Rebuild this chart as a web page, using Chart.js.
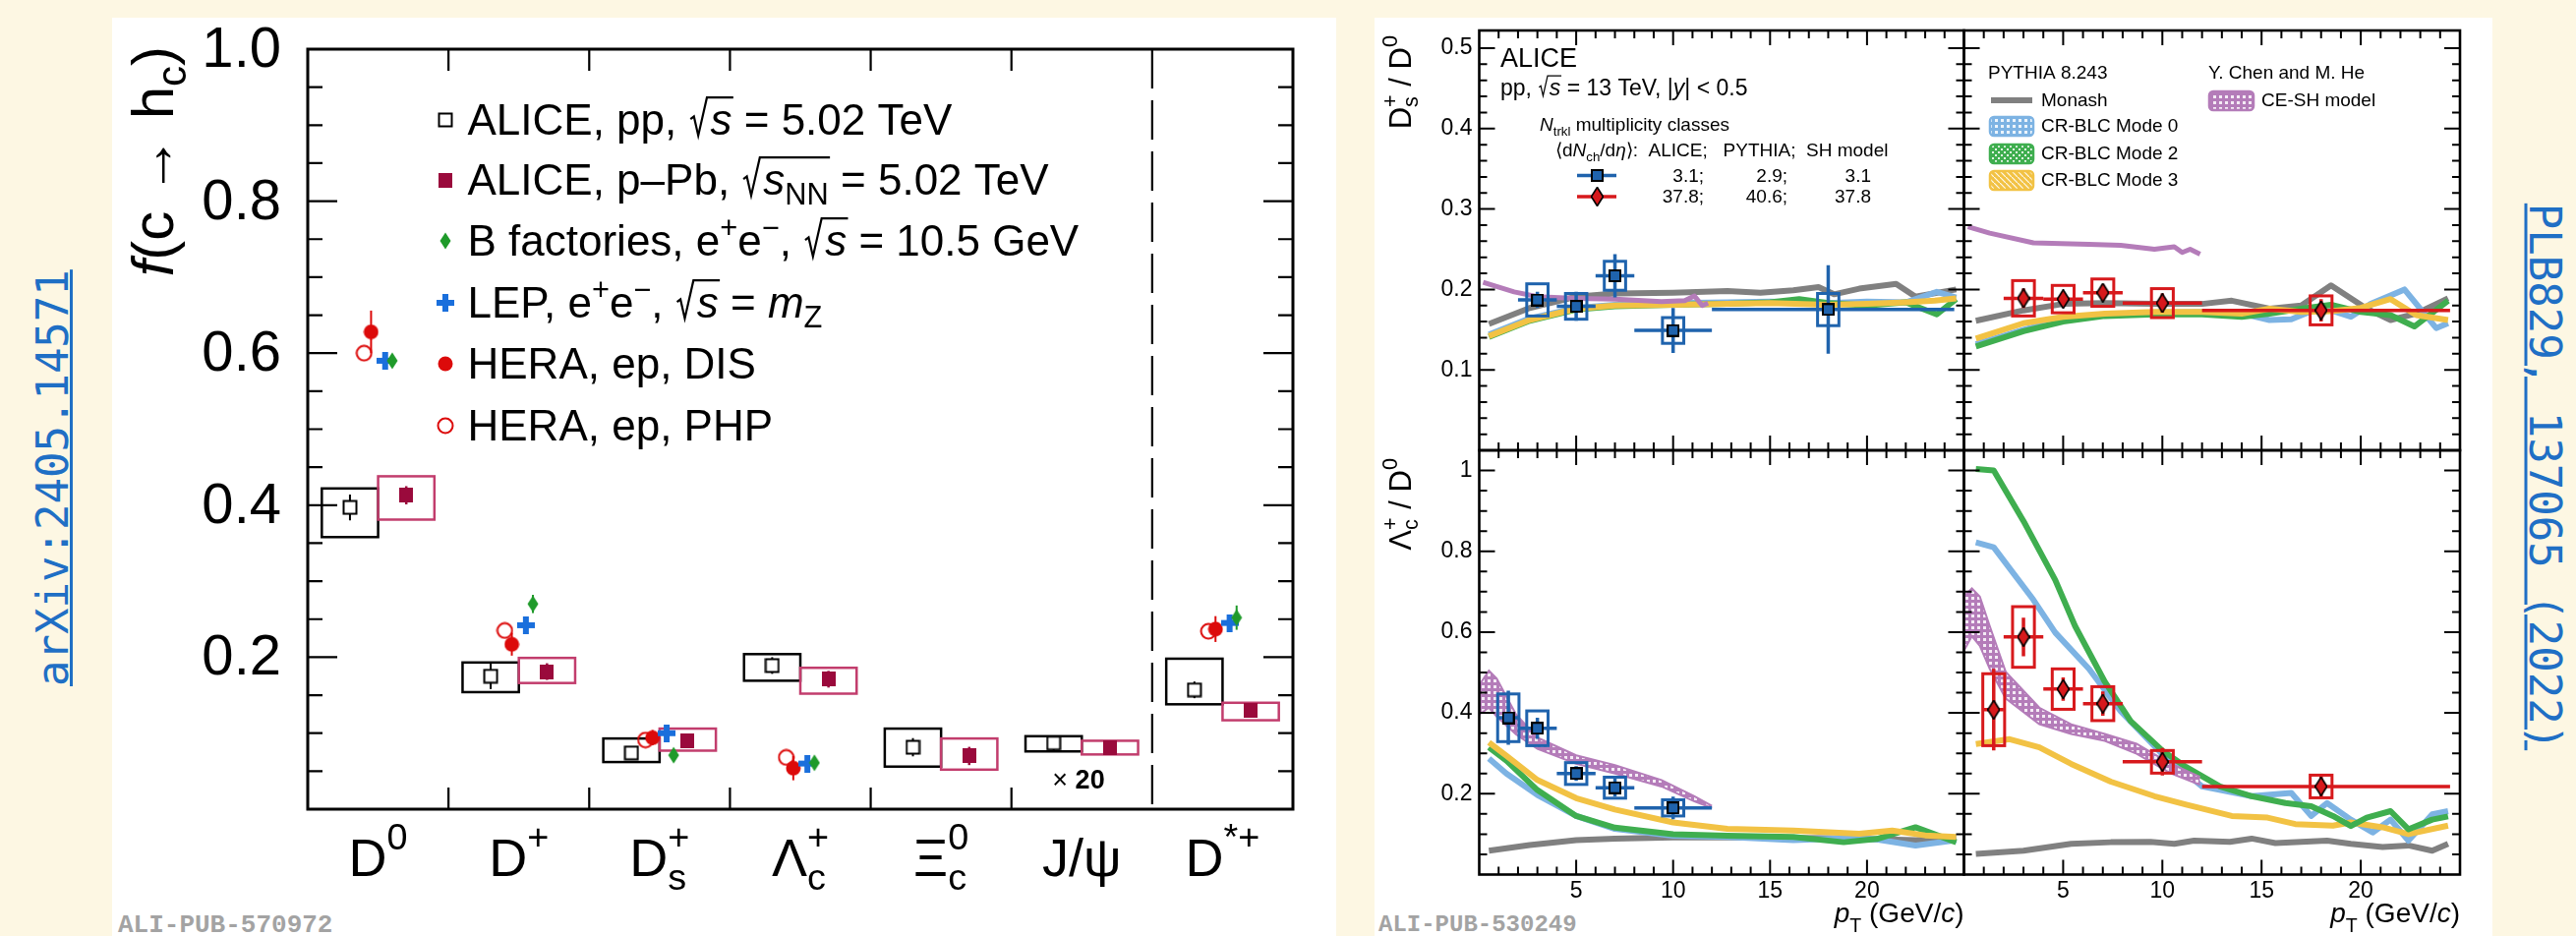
<!DOCTYPE html>
<html>
<head>
<meta charset="utf-8">
<title>Charm fragmentation fractions and baryon/meson ratios</title>
<script src="https://cdn.jsdelivr.net/npm/chart.js@4.4.1/dist/chart.umd.min.js"></script>
<style>
  html, body { margin: 0; padding: 0; }
  body { width: 2620px; height: 952px; background: #fdf7e3; position: relative; overflow: hidden; }
  .panel { position: absolute; background: #fff; }
  canvas { position: absolute; left: 0; top: 0; }
  .ref { position: absolute; color: #1f6fc5; font: 44px "DejaVu Sans Mono", monospace; text-decoration: underline;
         text-decoration-thickness: 3px; white-space: nowrap; text-align: center; height: 52px; line-height: 52px; }
  .pub { position: absolute; color: #a3a3a3; font: bold 26px "Liberation Mono", monospace; line-height: 26px; white-space: nowrap; }
</style>
</head>
<body>
<div class="panel" style="left:114px;top:18px;width:1245px;height:934px"></div>
<div class="panel" style="left:1398px;top:18px;width:1137px;height:934px"></div>
<div class="ref" style="left:-157px;top:461px;width:422px;transform:rotate(-90deg)">arXiv:2405.14571</div>
<div class="ref" style="left:2308px;top:459px;width:559px;transform:rotate(90deg)">PLB829, 137065 (2022)</div>
<div class="pub" style="left:120px;top:928px">ALI-PUB-570972</div>
<div class="pub" style="left:1402px;top:928px;font-size:24px">ALI-PUB-530249</div>

<canvas id="fragChart" width="2620" height="952"></canvas>
<canvas id="dsLowChart" width="2620" height="952"></canvas>
<canvas id="dsHighChart" width="2620" height="952"></canvas>
<canvas id="lcLowChart" width="2620" height="952"></canvas>
<canvas id="lcHighChart" width="2620" height="952"></canvas>

<script>
// ---------------- left figure: f(c -> hc) ----------------
const hadrons = ['D^{0}', 'D^{+}', 'D_{s}^{+}', 'Λ_{c}^{+}', 'Ξ_{c}^{0}', 'J/ψ', 'D^{*+}'];
const fracTicks = [0.2, 0.4, 0.6, 0.8, 1.0];

const ppFrac    = [0.397, 0.175, 0.074, 0.189, 0.0815, 0.087, 0.157];
const ppStat    = [0.017, 0.017, 0.008, 0.011, 0.012, 0.010, 0.011];
const ppSystLo  = [0.358, 0.154, 0.062, 0.169, 0.056, 0.076, 0.138];
const ppSystHi  = [0.422, 0.193, 0.093, 0.204, 0.106, 0.096, 0.198];

const pPbFrac   = [0.413, 0.181, 0.090, 0.171, 0.070, 0.081, 0.130];
const pPbStat   = [0.012, 0.011, 0.009, 0.011, 0.012, 0.008, 0.008];
const pPbSystLo = [0.381, 0.166, 0.077, 0.152, 0.052, 0.072, 0.117];
const pPbSystHi = [0.438, 0.199, 0.106, 0.186, 0.093, 0.090, 0.140];

const heraDis    = [0.628, 0.217, 0.094, 0.054, null, null, 0.237];
const heraDisErr = [0.028, 0.015, 0.010, 0.016, null, null, 0.017];
const heraPhp    = [0.600, 0.235, 0.091, 0.068, null, null, 0.234];
const lepFrac    = [0.590, 0.242, 0.100, 0.060, null, null, 0.245];
const bFactFrac  = [0.590, 0.270, 0.071, 0.061, null, null, 0.252];
const bFactErr   = [0.008, 0.012, 0.008, 0.006, null, null, 0.016];

const fracLegend = [
  'ALICE, pp, #sqrt{#it{s}} = 5.02 TeV',
  'ALICE, p–Pb, #sqrt{#it{s}_{NN}} = 5.02 TeV',
  'B factories, e^{+}e^{−}, #sqrt{#it{s}} = 10.5 GeV',
  'LEP, e^{+}e^{−}, #sqrt{#it{s}} = #it{m}_{Z}',
  'HERA, ep, DIS',
  'HERA, ep, PHP'
];

// ---------------- right figure: ratios vs pT ----------------
const ptTicks = [5, 10, 15, 20];
const dsTicks = [0.1, 0.2, 0.3, 0.4, 0.5];
const lcTicks = [0.2, 0.4, 0.6, 0.8, 1];

const dsPt   = [3, 5, 7, 10, 18];
const dsPtLo = [2, 4, 6, 8, 12];
const dsPtHi = [4, 6, 8, 12, 24.5];
const dsLowVal   = [0.187, 0.179, 0.217, 0.149, 0.175];
const dsLowStat  = [0.010, 0.018, 0.027, 0.028, 0.055];
const dsLowSyst  = [0.020, 0.016, 0.018, 0.016, 0.020];
const dsHighVal  = [0.189, 0.188, 0.196, 0.183, 0.174];
const dsHighStat = [0.012, 0.009, 0.010, 0.012, 0.014];
const dsHighSyst = [0.022, 0.017, 0.017, 0.018, 0.018];

const lcPt   = [1.5, 3, 5, 7, 10, 18];
const lcPtLo = [1, 2, 4, 6, 8, 12];
const lcPtHi = [2, 4, 6, 8, 12, 24.5];
const lcLowVal   = [0.388, 0.362, 0.250, 0.215, 0.165];
const lcLowStat  = [0.067, 0.026, 0.018, 0.022, 0.028];
const lcLowSyst  = [0.059, 0.043, 0.027, 0.026, 0.020];
const lcHighVal  = [0.408, 0.588, 0.459, 0.423, 0.279, 0.218];
const lcHighStat = [0.101, 0.048, 0.029, 0.030, 0.034, 0.026];
const lcHighSyst = [0.089, 0.075, 0.050, 0.042, 0.028, 0.028];

// models, Ds/D0 low multiplicity
const monashDsLowPt = [0.5, 2.6, 5, 7, 10, 12.8, 14.5, 16.2, 17.5, 18.3, 19.6, 21.5, 22.5, 24.6];
const monashDsLow   = [0.157, 0.177, 0.191, 0.195, 0.196, 0.198, 0.196, 0.199, 0.203, 0.194, 0.201, 0.207, 0.191, 0.200];
const mode0DsLowPt  = [0.5, 2.6, 5, 7, 10, 12.8, 15, 18, 20, 22, 23.6, 24.6];
const mode0DsLow    = [0.144, 0.164, 0.177, 0.181, 0.183, 0.184, 0.185, 0.183, 0.185, 0.184, 0.197, 0.190];
const mode2DsLowPt  = [0.5, 2.6, 5, 7, 10, 12.8, 15, 16.5, 18, 20, 22, 23.6, 24.6];
const mode2DsLow    = [0.141, 0.161, 0.175, 0.179, 0.181, 0.182, 0.184, 0.188, 0.183, 0.180, 0.184, 0.169, 0.188];
const mode3DsLowPt  = [0.5, 2.6, 5, 7, 10, 12.8, 15, 18, 20, 22, 23.5, 24.6];
const mode3DsLow    = [0.142, 0.162, 0.176, 0.180, 0.181, 0.182, 0.183, 0.181, 0.182, 0.184, 0.186, 0.189];
const ceshDsLowPt   = [0.2, 1.8, 3, 5, 7, 9.4, 10.6, 11.1, 11.5, 11.8];
const ceshDsLow     = [0.209, 0.197, 0.191, 0.189, 0.188, 0.185, 0.186, 0.192, 0.180, 0.183];

// models, Ds/D0 high multiplicity
const monashDsHighPt = [0.6, 3, 5, 7.1, 9.6, 12, 13.5, 15.4, 17, 18.5, 20.3, 21.5, 22.8, 24.4];
const monashDsHigh   = [0.161, 0.174, 0.182, 0.183, 0.182, 0.182, 0.186, 0.176, 0.180, 0.205, 0.176, 0.162, 0.170, 0.189];
const mode0DsHighPt  = [0.6, 3, 5, 7.1, 9.6, 12, 14, 15.4, 16.5, 18, 19.5, 20.5, 22.2, 23.8, 24.4];
const mode0DsHigh    = [0.132, 0.150, 0.163, 0.169, 0.171, 0.172, 0.170, 0.162, 0.163, 0.178, 0.166, 0.182, 0.200, 0.152, 0.158];
const mode2DsHighPt  = [0.6, 3, 5, 7.1, 9.6, 12, 14, 15.4, 17, 18.5, 20, 21.5, 22.7, 24.4];
const mode2DsHigh    = [0.129, 0.148, 0.160, 0.167, 0.169, 0.169, 0.166, 0.170, 0.176, 0.181, 0.172, 0.168, 0.154, 0.186];
const mode3DsHighPt  = [0.6, 3, 5, 7.1, 9.6, 12, 14, 15.4, 17, 18.5, 20, 21.5, 22.8, 24.4];
const mode3DsHigh    = [0.139, 0.158, 0.166, 0.170, 0.172, 0.172, 0.170, 0.176, 0.172, 0.173, 0.177, 0.188, 0.168, 0.162];
const ceshDsHighPt   = [0.2, 1.3, 3.5, 6.3, 7.9, 9.6, 10.6, 11.0, 11.4, 11.9];
const ceshDsHigh     = [0.278, 0.270, 0.258, 0.256, 0.255, 0.250, 0.253, 0.246, 0.250, 0.244];

// models, Lc/D0 low multiplicity
const monashLcLowPt = [0.5, 2.6, 5, 7, 10, 12.8, 15, 18, 20, 22.5, 24.6];
const monashLcLow   = [0.059, 0.073, 0.085, 0.089, 0.092, 0.092, 0.091, 0.090, 0.088, 0.085, 0.090];
const mode0LcLowPt  = [0.5, 1.4, 3, 5, 7, 10, 12.8, 16.2, 19, 20.5, 22.5, 24.6];
const mode0LcLow    = [0.287, 0.250, 0.197, 0.145, 0.113, 0.096, 0.093, 0.085, 0.090, 0.087, 0.072, 0.085];
const mode2LcLowPt  = [0.5, 1.4, 3, 5, 7, 10, 12.8, 16.2, 18.8, 20.5, 22.5, 24.6];
const mode2LcLow    = [0.315, 0.282, 0.209, 0.145, 0.116, 0.100, 0.096, 0.093, 0.080, 0.088, 0.117, 0.080];
const mode3LcLowPt  = [0.5, 1.4, 3, 5, 7, 10, 12.8, 16.2, 19.6, 21.3, 23, 24.6];
const mode3LcLow    = [0.327, 0.294, 0.234, 0.189, 0.161, 0.129, 0.113, 0.109, 0.101, 0.109, 0.097, 0.093];
const ceshLcLowPt   = [0, 0.5, 0.9, 1.9, 3, 5, 7, 9.4, 11.1, 12];
const ceshLcLowUp   = [0.469, 0.505, 0.485, 0.396, 0.339, 0.295, 0.271, 0.234, 0.194, 0.170];
const ceshLcLowDn   = [0.396, 0.413, 0.391, 0.347, 0.311, 0.274, 0.250, 0.218, 0.181, 0.165];

// models, Lc/D0 high multiplicity
const monashLcHighPt = [0.6, 3, 5.4, 7.4, 9.4, 10.6, 11.6, 13.4, 14.5, 15.7, 18.3, 19.5, 21.1, 22.4, 23.6, 24.4];
const monashLcHigh   = [0.051, 0.059, 0.076, 0.080, 0.081, 0.076, 0.084, 0.081, 0.089, 0.078, 0.084, 0.076, 0.068, 0.072, 0.059, 0.076];
const mode0LcHighPt  = [0.6, 1.5, 3.5, 4.6, 6.3, 7.9, 10, 12, 14.5, 16.5, 17.5, 18.3, 19.5, 20.6, 21.5, 22.4, 23.6, 24.4];
const mode0LcHigh    = [0.822, 0.810, 0.680, 0.599, 0.509, 0.404, 0.298, 0.218, 0.194, 0.202, 0.145, 0.177, 0.136, 0.104, 0.136, 0.084, 0.149, 0.157];
const mode2LcHighPt  = [0.6, 1.5, 3, 4.6, 5.6, 7.1, 8.4, 10, 11.2, 12.9, 14.5, 16.2, 17.5, 18.6, 19.5, 20.3, 21.5, 22.4, 23.6, 24.4];
const mode2LcHigh    = [1.004, 1.0, 0.875, 0.729, 0.615, 0.477, 0.380, 0.307, 0.266, 0.218, 0.194, 0.177, 0.169, 0.145, 0.120, 0.141, 0.157, 0.112, 0.136, 0.144];
const mode3LcHighPt  = [0.6, 2.3, 3.8, 5.4, 7.4, 9.6, 11.2, 13.5, 15.3, 16.7, 18.6, 19.5, 21.1, 22.4, 24.4];
const mode3LcHigh    = [0.323, 0.335, 0.315, 0.274, 0.230, 0.194, 0.173, 0.145, 0.141, 0.125, 0.121, 0.129, 0.117, 0.100, 0.121];
const ceshLcHighPt   = [0, 0.4, 0.8, 1.3, 2.1, 3.8, 5.4, 7.1, 8.7, 10.4, 11.9];
const ceshLcHighUp   = [0.688, 0.708, 0.688, 0.615, 0.502, 0.413, 0.372, 0.348, 0.324, 0.275, 0.242];
const ceshLcHighDn   = [0.554, 0.590, 0.566, 0.509, 0.436, 0.372, 0.348, 0.331, 0.299, 0.251, 0.222];

const C_GRAY = '#808080', C_MODE0 = '#7db3e3', C_MODE2 = '#3fae4f', C_MODE3 = '#f2c244', C_CESH = '#b47cb9';
const C_BLUE = '#1f63ad', C_RED = '#d7191c';

// ---------------- text helpers (ROOT-like #it, _{}, ^{}, #sqrt) ----------------
const SANS = '"Liberation Sans", Arial, sans-serif';
function fontStr(size, it) {
  return (it && it.i ? 'italic ' : '') + (it && it.b ? 'bold ' : '') + size + 'px ' + SANS;
}
function setFlag(items, f) {
  items.forEach(it => {
    if (it.t !== undefined) it[f] = true;
    if (it.sup) setFlag(it.sup, f);
    if (it.sub) setFlag(it.sub, f);
    if (it.sqrt) setFlag(it.sqrt, f);
  });
}
function parseTex(s) {
  const out = [];
  let i = 0, buf = '';
  const flush = () => { if (buf) { out.push({ t: buf }); buf = ''; } };
  const group = () => {
    let depth = 0;
    const start = i + 1;
    for (; i < s.length; i++) {
      if (s[i] === '{') depth++;
      else if (s[i] === '}' && --depth === 0) break;
    }
    const g = s.slice(start, i);
    i++;
    return g;
  };
  while (i < s.length) {
    const c = s[i];
    if (c === '^' || c === '_') {
      flush(); i++;
      const key = c === '^' ? 'sup' : 'sub';
      const g = parseTex(group());
      const last = out[out.length - 1];
      if (last && last.script && !last[key]) last[key] = g;
      else out.push({ script: true, [key]: g });
    } else if (s.startsWith('#sqrt', i)) {
      flush(); i += 5;
      out.push({ sqrt: parseTex(group()) });
    } else if (s.startsWith('#it', i) || s.startsWith('#bf', i)) {
      flush();
      const flag = s[i + 1] === 'i' ? 'i' : 'b';
      i += 3;
      const inner = parseTex(group());
      setFlag(inner, flag);
      out.push(...inner);
    } else {
      buf += c; i++;
    }
  }
  flush();
  return out;
}
function texWidth(ctx, items, fs, o) {
  let w = 0;
  for (const it of items) {
    if (it.script) {
      const ss = fs * o.scale;
      w += Math.max(it.sup ? texWidth(ctx, it.sup, ss, o) : 0, it.sub ? texWidth(ctx, it.sub, ss, o) : 0);
    } else if (it.sqrt) {
      w += fs * 0.5 + texWidth(ctx, it.sqrt, fs, o);
    } else {
      ctx.font = fontStr(fs, it);
      w += ctx.measureText(it.t).width;
    }
  }
  return w;
}
function texRun(ctx, items, x, y, fs, o) {
  ctx.textAlign = 'left';
  ctx.textBaseline = 'alphabetic';
  for (const it of items) {
    if (it.script) {
      const ss = fs * o.scale;
      let end = x;
      if (it.sup) end = Math.max(end, texRun(ctx, it.sup, x, y - fs * o.sup, ss, o));
      if (it.sub) end = Math.max(end, texRun(ctx, it.sub, x, y + fs * o.sub, ss, o));
      x = end;
    } else if (it.sqrt) {
      const end = texRun(ctx, it.sqrt, x + fs * 0.5, y, fs, o);
      ctx.save();
      ctx.strokeStyle = ctx.fillStyle;
      ctx.lineWidth = Math.max(1.2, fs * 0.05);
      ctx.beginPath();
      ctx.moveTo(x + fs * 0.04, y - fs * 0.36);
      ctx.lineTo(x + fs * 0.12, y - fs * 0.42);
      ctx.lineTo(x + fs * 0.22, y + fs * 0.02);
      ctx.lineTo(x + fs * 0.42, y - fs * 0.86);
      ctx.lineTo(end + fs * 0.03, y - fs * 0.86);
      ctx.stroke();
      ctx.restore();
      x = end;
    } else {
      ctx.font = fontStr(fs, it);
      ctx.fillText(it.t, x, y);
      x += ctx.measureText(it.t).width;
    }
  }
  return x;
}
function drawTex(ctx, str, x, y, fs, align, opt) {
  const o = Object.assign({ scale: 0.7, sup: 0.45, sub: 0.22 }, opt || {});
  const items = parseTex(str);
  const w = texWidth(ctx, items, fs, o);
  if (align === 'center') x -= w / 2;
  else if (align === 'right') x -= w;
  texRun(ctx, items, x, y, fs, o);
  return w;
}
function vTitle(ctx, str, baseX, topY, fs) {
  ctx.save();
  ctx.translate(baseX, topY);
  ctx.rotate(-Math.PI / 2);
  drawTex(ctx, str, 0, 0, fs, 'right');
  ctx.restore();
}

// ---------------- markers & patterns ----------------
function markerCanvas(w, h, paint) {
  const c = document.createElement('canvas');
  c.width = w; c.height = h;
  paint(c.getContext('2d'), w, h);
  return c;
}
function diamond(g, w, h) {
  g.beginPath(); g.moveTo(w / 2, 0.5); g.lineTo(w - 0.5, h / 2); g.lineTo(w / 2, h - 0.5); g.lineTo(0.5, h / 2); g.closePath();
}
const mkOpenSq = markerCanvas(16, 16, g => { g.fillStyle = '#fff'; g.fillRect(1.5, 1.5, 13, 13); g.strokeStyle = '#000'; g.lineWidth = 2; g.strokeRect(1.5, 1.5, 13, 13); });
const mkFullSq = markerCanvas(14, 15, g => { g.fillStyle = '#9a0a3c'; g.fillRect(0, 0, 14, 15); });
const mkGreenDia = markerCanvas(12, 18, (g, w, h) => { g.fillStyle = '#1f9a2a'; diamond(g, w, h); g.fill(); });
const mkBlueCross = markerCanvas(18, 18, g => { g.fillStyle = '#1a6fdc'; g.fillRect(0, 6, 18, 6); g.fillRect(6, 0, 6, 18); });
const mkRedDot = markerCanvas(16, 16, g => { g.fillStyle = '#dc0a0a'; g.beginPath(); g.arc(8, 8, 7.5, 0, 2 * Math.PI); g.fill(); });
const mkRedRing = markerCanvas(18, 18, g => { g.strokeStyle = '#dc0a0a'; g.lineWidth = 2; g.beginPath(); g.arc(9, 9, 7.5, 0, 2 * Math.PI); g.stroke(); });
const mkBlueSq = markerCanvas(13, 13, g => { g.fillStyle = C_BLUE; g.fillRect(0, 0, 13, 13); g.strokeStyle = '#000'; g.lineWidth = 2; g.strokeRect(1, 1, 11, 11); });
const mkRedDia = markerCanvas(13, 20, (g, w, h) => { diamond(g, w, h); g.fillStyle = C_RED; g.fill(); g.strokeStyle = '#000'; g.lineWidth = 1.6; g.stroke(); });

function hatch(base, kind) {
  const c = document.createElement('canvas');
  c.width = 6; c.height = 6;
  const g = c.getContext('2d');
  g.fillStyle = base; g.fillRect(0, 0, 6, 6);
  g.fillStyle = 'rgba(255,255,255,0.85)';
  g.strokeStyle = 'rgba(255,255,255,0.9)';
  if (kind === 'grid') g.fillRect(1, 1, 3, 3);
  else if (kind === 'dots') { g.fillRect(1, 1, 2, 2); g.fillRect(4, 4, 2, 2); }
  else { g.lineWidth = 1.2; g.beginPath(); g.moveTo(-1, -1); g.lineTo(7, 7); g.stroke(); }
  return document.createElement('canvas').getContext('2d').createPattern(c, 'repeat');
}
const patCesh = hatch(C_CESH, 'grid');
const patMode0 = hatch(C_MODE0, 'grid');
const patMode2 = hatch(C_MODE2, 'dots');
const patMode3 = hatch(C_MODE3, 'diag');

// ---------------- left chart ----------------
function catPoints(vals, offset) {
  return vals.map((v, i) => (v == null ? null : { x: i + offset, y: v })).filter(Boolean);
}
function box(ctx, x, y, x0, x1, lo, hi, color, lw) {
  const px0 = x.getPixelForValue(x0), px1 = x.getPixelForValue(x1);
  const py0 = y.getPixelForValue(hi), py1 = y.getPixelForValue(lo);
  ctx.strokeStyle = color; ctx.lineWidth = lw;
  ctx.strokeRect(px0, py0, px1 - px0, py1 - py0);
}
function vbar(ctx, x, y, xv, v, e, color, lw) {
  const px = x.getPixelForValue(xv);
  ctx.strokeStyle = color; ctx.lineWidth = lw;
  ctx.beginPath();
  ctx.moveTo(px, y.getPixelForValue(v - e)); ctx.lineTo(px, y.getPixelForValue(v + e));
  ctx.stroke();
}

const fracDeco = {
  id: 'fracDeco',
  beforeDatasetsDraw(chart) {
    const { ctx, scales: { x, y } } = chart;
    ctx.save();
    hadrons.forEach((h, i) => {
      box(ctx, x, y, i + 0.1, i + 0.5, ppSystLo[i], ppSystHi[i], '#000', 2.5);
      box(ctx, x, y, i + 0.5, i + 0.9, pPbSystLo[i], pPbSystHi[i], '#c23d6d', 2.5);
      vbar(ctx, x, y, i + 0.3, ppFrac[i], ppStat[i], '#000', 2);
      vbar(ctx, x, y, i + 0.7, pPbFrac[i], pPbStat[i], '#9a0a3c', 2.5);
      if (heraDis[i] != null) vbar(ctx, x, y, i + 0.45, heraDis[i], heraDisErr[i], '#dc0a0a', 2);
      if (bFactFrac[i] != null) vbar(ctx, x, y, i + 0.6, bFactFrac[i], bFactErr[i], '#1f9a2a', 2);
    });
    ctx.restore();
  },
  afterDraw(chart) {
    const { ctx, chartArea: a, scales: { x, y } } = chart;
    ctx.save();
    ctx.strokeStyle = '#000'; ctx.fillStyle = '#000';
    ctx.lineWidth = 2.2;
    ctx.beginPath();
    for (let k = 1; k < 20; k++) {
      const py = y.getPixelForValue(k * 0.05), len = k % 4 === 0 ? 30 : 15;
      ctx.moveTo(a.left, py); ctx.lineTo(a.left + len, py);
      ctx.moveTo(a.right, py); ctx.lineTo(a.right - len, py);
    }
    for (let c = 1; c < hadrons.length - 1; c++) {
      const px = x.getPixelForValue(c);
      ctx.moveTo(px, a.top); ctx.lineTo(px, a.top + 22);
      ctx.moveTo(px, a.bottom); ctx.lineTo(px, a.bottom - 22);
    }
    ctx.stroke();
    const sep = x.getPixelForValue(hadrons.length - 1);
    ctx.setLineDash([40, 12]);
    ctx.beginPath(); ctx.moveTo(sep, a.top); ctx.lineTo(sep, a.bottom); ctx.stroke();
    ctx.setLineDash([]);
    ctx.lineWidth = 3;
    ctx.strokeRect(a.left, a.top, a.right - a.left, a.bottom - a.top);

    ctx.font = fontStr(58);
    ctx.textAlign = 'right'; ctx.textBaseline = 'middle';
    fracTicks.forEach(v => ctx.fillText(v.toFixed(1), 286, y.getPixelForValue(v) + 2));
    hadrons.forEach((h, i) => drawTex(ctx, h, x.getPixelForValue(i + 0.5), 891, 54, 'center', { sup: 0.5, sub: 0.25 }));
    vTitle(ctx, '#it{f}(c → h_{c})', 176, 47, 60);

    const marks = [mkOpenSq, mkFullSq, mkGreenDia, mkBlueCross, mkRedDot, mkRedRing];
    const base = [137, 198, 260, 323, 385, 448];
    fracLegend.forEach((t, i) => {
      const m = marks[i];
      ctx.drawImage(m, Math.round(452.5 - m.width / 2), Math.round(base[i] - 15 - m.height / 2));
      ctx.fillStyle = '#000';
      drawTex(ctx, t, 475.5, base[i], 44, 'left', { sup: 0.42, sub: 0.22 });
    });
    drawTex(ctx, '× #bf{20}', 1097, 802, 27, 'center');
    ctx.restore();
  }
};

new Chart(document.getElementById('fragChart'), {
  type: 'scatter',
  data: {
    datasets: [
      { data: catPoints(heraPhp, 0.4), pointStyle: mkRedRing, pointRadius: 5, order: 6 },
      { data: catPoints(heraDis, 0.45), pointStyle: mkRedDot, pointRadius: 5, order: 5 },
      { data: catPoints(lepFrac, 0.55), pointStyle: mkBlueCross, pointRadius: 5, order: 4 },
      { data: catPoints(bFactFrac, 0.6), pointStyle: mkGreenDia, pointRadius: 5, order: 3 },
      { data: catPoints(ppFrac, 0.3), pointStyle: mkOpenSq, pointRadius: 5, order: 2 },
      { data: catPoints(pPbFrac, 0.7), pointStyle: mkFullSq, pointRadius: 5, order: 1 }
    ]
  },
  options: {
    responsive: false, animation: false, devicePixelRatio: 1, events: [],
    layout: { padding: { left: 313, top: 50, right: 1305, bottom: 129 } },
    plugins: { legend: { display: false }, tooltip: { enabled: false } },
    scales: {
      x: { type: 'linear', min: 0, max: hadrons.length, display: false },
      y: { type: 'linear', min: 0, max: 1, display: false }
    }
  },
  plugins: [fracDeco]
});

// ---------------- right charts ----------------
function curve(pt, val, color, width, order) {
  return { data: pt.map((x, i) => ({ x, y: val[i] })), borderColor: color, borderWidth: width,
           pointRadius: 0, fill: false, order, tension: 0, borderJoinStyle: 'round' };
}
function band(pt, up, dn, color, pattern, order) {
  return [
    { data: pt.map((x, i) => ({ x, y: up[i] })), borderColor: color, borderWidth: 2, pointRadius: 0, fill: false, order, tension: 0 },
    { data: pt.map((x, i) => ({ x, y: dn[i] })), borderColor: color, borderWidth: 2, pointRadius: 0, fill: '-1',
      backgroundColor: pattern, order, tension: 0 }
  ];
}
function alice(pt, lo, hi, val, stat, syst, color, marker) {
  return { type: 'scatter', data: val.map((v, i) => ({ x: pt[i], y: v })), pointStyle: marker, pointRadius: 5,
           order: 0, err: { lo, hi, stat, syst, color } };
}

const aliceErrors = {
  id: 'aliceErrors',
  beforeDatasetDraw(chart, args) {
    const ds = chart.data.datasets[args.index];
    if (!ds.err) return;
    const { ctx, scales: { x, y } } = chart;
    const e = ds.err;
    ctx.save();
    ctx.strokeStyle = e.color;
    ds.data.forEach((p, i) => {
      const px = x.getPixelForValue(p.x), py = y.getPixelForValue(p.y);
      const bx0 = x.getPixelForValue(p.x - 0.55), bx1 = x.getPixelForValue(p.x + 0.55);
      const by0 = y.getPixelForValue(p.y + e.syst[i]), by1 = y.getPixelForValue(p.y - e.syst[i]);
      ctx.lineWidth = 3;
      ctx.strokeRect(bx0, by0, bx1 - bx0, by1 - by0);
      ctx.lineWidth = 3.5;
      ctx.beginPath();
      ctx.moveTo(x.getPixelForValue(e.lo[i]), py); ctx.lineTo(x.getPixelForValue(e.hi[i]), py);
      ctx.moveTo(px, y.getPixelForValue(p.y + e.stat[i])); ctx.lineTo(px, y.getPixelForValue(p.y - e.stat[i]));
      ctx.stroke();
    });
    ctx.restore();
  }
};

function panelPlugin(cfg) {
  return {
    id: 'panelFrame',
    afterDraw(chart) {
      const { ctx, chartArea: a, scales: { x, y } } = chart;
      ctx.save();
      ctx.strokeStyle = '#000'; ctx.fillStyle = '#000';
      ctx.lineWidth = 2;
      ctx.beginPath();
      for (let v = 1; v < 25; v++) {
        const px = x.getPixelForValue(v), len = v % 5 === 0 ? 15 : 8;
        ctx.moveTo(px, a.top); ctx.lineTo(px, a.top + len);
        ctx.moveTo(px, a.bottom); ctx.lineTo(px, a.bottom - len);
      }
      for (let k = 1; k * cfg.yMinor < cfg.yMax - 0.004; k++) {
        const v = k * cfg.yMinor;
        const major = Math.abs(v / cfg.yMajor - Math.round(v / cfg.yMajor)) < 1e-6;
        const py = y.getPixelForValue(v), len = major ? 16 : 8;
        ctx.moveTo(a.left, py); ctx.lineTo(a.left + len, py);
        ctx.moveTo(a.right, py); ctx.lineTo(a.right - len, py);
      }
      ctx.stroke();
      ctx.lineWidth = 2.6;
      ctx.strokeRect(a.left, a.top, a.right - a.left, a.bottom - a.top);
      ctx.font = fontStr(23);
      if (cfg.yLabels) {
        ctx.textAlign = 'right'; ctx.textBaseline = 'middle';
        cfg.yLabels.forEach(v => ctx.fillText(String(v), a.left - 7, y.getPixelForValue(v)));
      }
      if (cfg.xLabels) {
        ctx.textAlign = 'center'; ctx.textBaseline = 'alphabetic';
        cfg.xLabels.forEach(v => ctx.fillText(String(v), x.getPixelForValue(v), a.bottom + 23));
        drawTex(ctx, '#it{p}_{T} (GeV/#it{c})', a.right, 938, 28, 'right', { sub: 0.35 });
      }
      if (cfg.deco) cfg.deco(ctx, chart);
      ctx.restore();
    }
  };
}

function ratioChart(id, pad, yMax, datasets, cfg) {
  cfg.yMax = yMax;
  return new Chart(document.getElementById(id), {
    type: 'line',
    data: { datasets },
    options: {
      responsive: false, animation: false, devicePixelRatio: 1, events: [],
      layout: { padding: pad },
      plugins: { legend: { display: false }, tooltip: { enabled: false } },
      scales: {
        x: { type: 'linear', min: 0, max: 25, display: false },
        y: { type: 'linear', min: 0, max: yMax, display: false }
      }
    },
    plugins: [aliceErrors, panelPlugin(cfg)]
  });
}

function legendBox(ctx, x0, y0, x1, y1, color, pattern) {
  ctx.save();
  ctx.beginPath();
  ctx.roundRect(x0, y0, x1 - x0, y1 - y0, 4);
  ctx.fillStyle = pattern; ctx.fill();
  ctx.strokeStyle = color; ctx.lineWidth = 2.5; ctx.stroke();
  ctx.restore();
}

// Ds/D0 low multiplicity
ratioChart('dsLowChart', { left: 1504.5, top: 31, right: 622.5, bottom: 494 }, 0.522, [
  curve(monashDsLowPt, monashDsLow, C_GRAY, 6, 5),
  curve(mode0DsLowPt, mode0DsLow, C_MODE0, 6, 4),
  curve(mode2DsLowPt, mode2DsLow, C_MODE2, 6, 3),
  curve(mode3DsLowPt, mode3DsLow, C_MODE3, 6, 2),
  curve(ceshDsLowPt, ceshDsLow, C_CESH, 5, 1),
  alice(dsPt, dsPtLo, dsPtHi, dsLowVal, dsLowStat, dsLowSyst, C_BLUE, mkBlueSq)
], {
  yMajor: 0.1, yMinor: 0.02, yLabels: dsTicks,
  deco(ctx) {
    vTitle(ctx, 'D_{s}^{+} / D^{0}', 1435, 36, 31);
    drawTex(ctx, 'ALICE', 1526, 68, 27, 'left');
    drawTex(ctx, 'pp, #sqrt{#it{s}} = 13 TeV, |#it{y}| < 0.5', 1526, 97, 23, 'left');
    drawTex(ctx, '#it{N}_{trkl} multiplicity classes', 1566, 133, 19, 'left', { sub: 0.25 });
    drawTex(ctx, '⟨d#it{N}_{ch}/d#it{η}⟩:  ALICE;   PYTHIA;  SH model', 1582, 159, 19, 'left', { sub: 0.25 });
    ctx.lineWidth = 3.5;
    ctx.strokeStyle = C_BLUE;
    ctx.beginPath(); ctx.moveTo(1604, 178.5); ctx.lineTo(1644, 178.5); ctx.stroke();
    ctx.drawImage(mkBlueSq, 1618, 172);
    ctx.strokeStyle = C_RED;
    ctx.beginPath(); ctx.moveTo(1604, 200); ctx.lineTo(1644, 200); ctx.stroke();
    ctx.drawImage(mkRedDia, 1618, 190);
    ctx.font = fontStr(19); ctx.textAlign = 'right'; ctx.textBaseline = 'alphabetic';
    ['3.1;', '2.9;', '3.1'].forEach((t, i) => ctx.fillText(t, [1733, 1818, 1903][i], 184.5));
    ['37.8;', '40.6;', '37.8'].forEach((t, i) => ctx.fillText(t, [1733, 1818, 1903][i], 206));
  }
});

// Ds/D0 high multiplicity
ratioChart('dsHighChart', { left: 1997.5, top: 31, right: 118, bottom: 494 }, 0.522, [
  curve(monashDsHighPt, monashDsHigh, C_GRAY, 6, 5),
  curve(mode0DsHighPt, mode0DsHigh, C_MODE0, 6, 4),
  curve(mode2DsHighPt, mode2DsHigh, C_MODE2, 6, 3),
  curve(mode3DsHighPt, mode3DsHigh, C_MODE3, 6, 2),
  curve(ceshDsHighPt, ceshDsHigh, C_CESH, 5, 1),
  alice(dsPt, dsPtLo, dsPtHi, dsHighVal, dsHighStat, dsHighSyst, C_RED, mkRedDia)
], {
  yMajor: 0.1, yMinor: 0.02,
  deco(ctx) {
    ctx.fillStyle = '#000';
    drawTex(ctx, 'PYTHIA 8.243', 2022, 80, 19, 'left');
    drawTex(ctx, 'Y. Chen and M. He', 2246, 80, 19, 'left');
    ctx.strokeStyle = C_GRAY; ctx.lineWidth = 6;
    ctx.beginPath(); ctx.moveTo(2025, 102); ctx.lineTo(2067, 102); ctx.stroke();
    drawTex(ctx, 'Monash', 2076, 108, 19, 'left');
    legendBox(ctx, 2024, 119, 2068, 138, C_MODE0, patMode0);
    drawTex(ctx, 'CR-BLC Mode 0', 2076, 134, 19, 'left');
    legendBox(ctx, 2024, 147, 2068, 166, C_MODE2, patMode2);
    drawTex(ctx, 'CR-BLC Mode 2', 2076, 162, 19, 'left');
    legendBox(ctx, 2024, 174, 2068, 193, C_MODE3, patMode3);
    drawTex(ctx, 'CR-BLC Mode 3', 2076, 189, 19, 'left');
    legendBox(ctx, 2247, 93, 2292, 112, C_CESH, patCesh);
    drawTex(ctx, 'CE-SH model', 2300, 108, 19, 'left');
  }
});

// Lc/D0 low multiplicity
ratioChart('lcLowChart', { left: 1504.5, top: 458, right: 622.5, bottom: 62.5 }, 1.05, [
  curve(monashLcLowPt, monashLcLow, C_GRAY, 6, 5),
  curve(mode0LcLowPt, mode0LcLow, C_MODE0, 6, 4),
  curve(mode2LcLowPt, mode2LcLow, C_MODE2, 6, 3),
  curve(mode3LcLowPt, mode3LcLow, C_MODE3, 6, 2),
  ...band(ceshLcLowPt, ceshLcLowUp, ceshLcLowDn, C_CESH, patCesh, 1),
  alice(lcPt, lcPtLo, lcPtHi, lcLowVal, lcLowStat, lcLowSyst, C_BLUE, mkBlueSq)
], {
  yMajor: 0.2, yMinor: 0.05, yLabels: lcTicks, xLabels: ptTicks,
  deco(ctx) { vTitle(ctx, 'Λ_{c}^{+} / D^{0}', 1435, 466, 31); }
});

// Lc/D0 high multiplicity
ratioChart('lcHighChart', { left: 1997.5, top: 458, right: 118, bottom: 62.5 }, 1.05, [
  curve(monashLcHighPt, monashLcHigh, C_GRAY, 6, 5),
  curve(mode0LcHighPt, mode0LcHigh, C_MODE0, 6, 4),
  curve(mode3LcHighPt, mode3LcHigh, C_MODE3, 6, 3),
  curve(mode2LcHighPt, mode2LcHigh, C_MODE2, 6, 2),
  ...band(ceshLcHighPt, ceshLcHighUp, ceshLcHighDn, C_CESH, patCesh, 1),
  alice(lcPt, lcPtLo, lcPtHi, lcHighVal, lcHighStat, lcHighSyst, C_RED, mkRedDia)
], { yMajor: 0.2, yMinor: 0.05, xLabels: ptTicks });
</script>
</body>
</html>
